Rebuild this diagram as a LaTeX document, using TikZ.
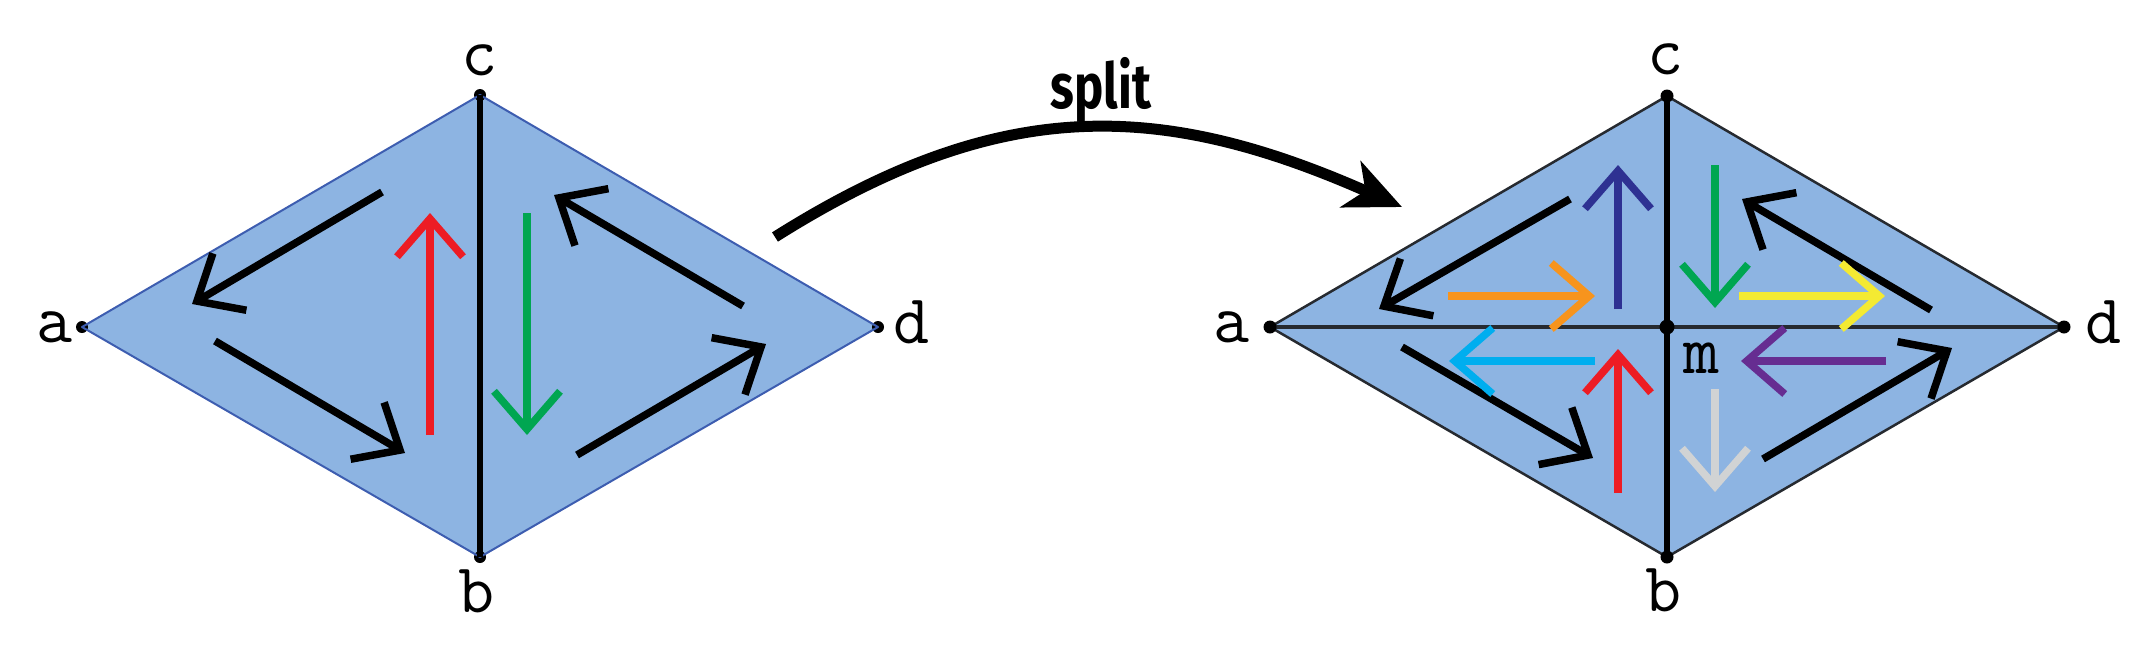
\documentclass[tikz,border=0pt]{standalone}
\usepackage{fontspec}
\usepackage{graphicx}
\usetikzlibrary{arrows.meta}
\newfontfamily\splitfont{Fira Sans}
\definecolor{fillblue}{HTML}{8DB4E2}
\definecolor{edgeblue}{HTML}{3D5DB0}
\definecolor{edgedark}{HTML}{262A30}
\definecolor{arred}{HTML}{ED1C24}
\definecolor{argreen}{HTML}{00A651}
\definecolor{arnavy}{HTML}{2E3192}
\definecolor{arorange}{HTML}{F7941D}
\definecolor{arcyan}{HTML}{00AEEF}
\definecolor{aryellow}{HTML}{F4EA32}
\definecolor{arpurple}{HTML}{662D91}
\definecolor{argray}{HTML}{D1D3D4}
\begin{document}
\begin{tikzpicture}[x=1pt,y=-1pt,
  vline/.style={line width=6.5pt,black},
  dotmark/.style={circle,fill=black,inner sep=0pt,minimum size=13pt},
  lbl/.style={font=\ttfamily\fontsize{70}{71}\selectfont,inner sep=0pt,anchor=base},
  arr/.style={line width=7.5pt,-{Straight Barb[length=38pt,width=66pt]}},
]
\useasboundingbox (0,0) rectangle (2151,649);

% ---------- left diamond ----------
\coordinate (La) at (82,327);
\coordinate (Lc) at (480,95);
\coordinate (Lb) at (480,557);
\coordinate (Ld) at (878,327);
\fill[fillblue] (La) -- (Lc) -- (Ld) -- (Lb) -- cycle;
\node[dotmark,minimum size=12pt] (Lda) at (La) {};
\node[dotmark,minimum size=12pt] (Ldd) at (Ld) {};
\node[dotmark,minimum size=12pt] (Ldc) at (Lc) {};
\node[dotmark,minimum size=12pt] (Ldb) at (Lb) {};
\draw[edgeblue,line width=2pt,line join=round] (La) -- (Lc) -- (Ld) -- (Lb) -- cycle;
\draw[vline] (Lc) -- (Lb);

\draw[arr] (382,192) -- (192,304);
\draw[arr] (215,341) -- (405,453);
\draw[arr] (743,306) -- (554,195);
\draw[arr] (577,455) -- (766,344);
\draw[arr,arred] (430,435) -- (430,213);
\draw[arr,argreen] (527,213) -- (527,435);

% ---------- right diamond ----------
\coordinate (Ra) at (1270,327);
\coordinate (Rc) at (1667,96);
\coordinate (Rb) at (1667,557);
\coordinate (Rd) at (2064,327);
\coordinate (Rm) at (1667,327);
\fill[fillblue] (Ra) -- (Rc) -- (Rd) -- (Rb) -- cycle;
\draw[edgedark,line width=3.5pt] (Ra) -- (Rd);
\draw[edgedark,line width=2.5pt,line join=round] (Ra) -- (Rc) -- (Rd) -- (Rb) -- cycle;
\draw[vline] (Rc) -- (Rb);
\node[dotmark] (Rda) at (Ra) {};
\node[dotmark] (Rdd) at (Rd) {};
\node[dotmark] (Rdc) at (Rc) {};
\node[dotmark] (Rdb) at (Rb) {};
\node[dotmark,minimum size=15pt] (Rdm) at (Rm) {};

\draw[arr] (1570,199) -- (1379,309);
\draw[arr] (1402,347) -- (1593,458);
\draw[arr] (1931,310) -- (1742,199);
\draw[arr] (1763,459) -- (1952,348);
\draw[arr,arnavy] (1618,309) -- (1618,165);
\draw[arr,arred] (1618,493) -- (1618,349);
\draw[arr,argreen] (1715,165) -- (1715,308);
\draw[arr,argray] (1715,389) -- (1715,492);
\draw[arr,arorange] (1448,296) -- (1595,296);
\draw[arr,aryellow] (1739,296) -- (1885,296);
\draw[arr,arcyan] (1595,361) -- (1449,361);
\draw[arr,arpurple] (1886,361) -- (1741,361);

% ---------- labels ----------
\node[lbl] (la1) at (55,342) {a};
\node[lbl] (lc1) at (480,75) {c};
\node[lbl] (lb1) at (477,612) {b};
\node[lbl] (ld1) at (912,343) {d};
\node[lbl] (la2) at (1232,342) {a};
\node[lbl] (lc2) at (1666,74) {c};
\node[lbl] (lb2) at (1664,611) {b};
\node[lbl] (ld2) at (2103,343) {d};
\node[lbl] (lm) at (1702,373) {m};

% ---------- split arrow ----------
\node[font=\splitfont\bfseries\fontsize{63}{64}\selectfont,anchor=base,inner sep=0pt] (splitlbl) at (1101,108) {\scalebox{0.78}[1]{split}};
\coordinate (s1) at (775,237);
\coordinate (s2) at (1402,207);
\draw[line width=11pt,-{Stealth[length=56pt,width=50pt,inset=16pt]}] (s1) .. controls (1000,95) and (1160,100) .. (s2);
\end{tikzpicture}
\end{document}
